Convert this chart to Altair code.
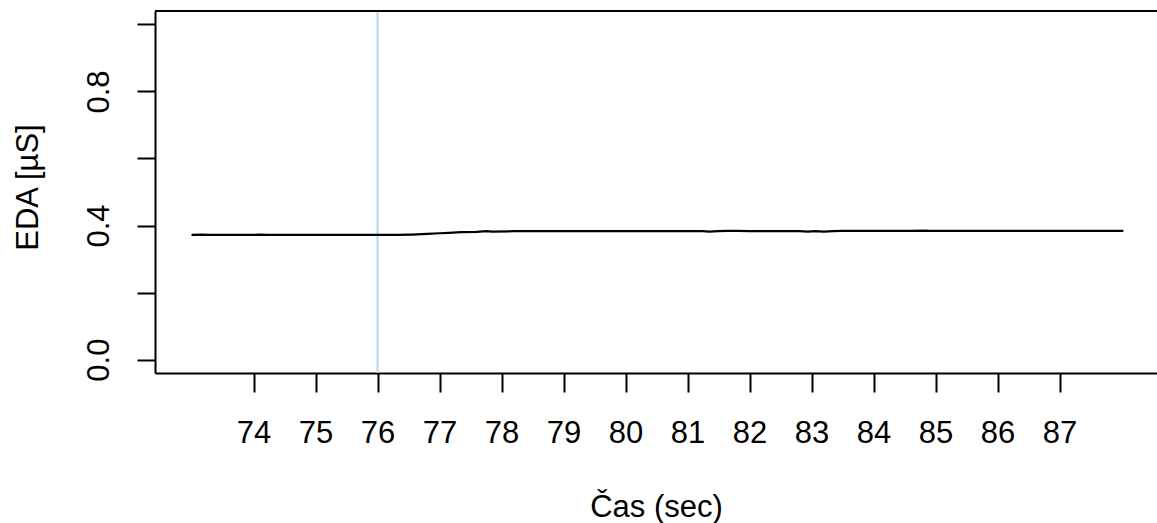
import altair as alt
import pandas as pd

# EDA signal samples
time_s = [73.0, 73.15, 73.3, 73.5, 73.75, 74.0, 74.1, 74.25, 74.5, 75.0, 75.5, 76.0,
          76.3, 76.55, 76.8, 77.0, 77.15, 77.35, 77.6, 77.75, 77.85, 78.2, 78.6, 79.0,
          79.5, 80.0, 80.5, 81.0, 81.25, 81.35, 81.5, 81.65, 81.8, 82.0, 82.4, 82.8,
          82.95, 83.05, 83.2, 83.35, 83.5, 83.8, 84.2, 84.6, 84.85, 84.9, 85.5, 86.0,
          86.5, 87.0, 87.5, 88.03]
eda_us = [0.372, 0.373, 0.372, 0.372, 0.372, 0.372, 0.373, 0.372, 0.372, 0.372, 0.372, 0.372,
          0.372, 0.373, 0.375, 0.377, 0.378, 0.380, 0.381, 0.383, 0.382, 0.383, 0.383, 0.383,
          0.383, 0.383, 0.383, 0.383, 0.383, 0.382, 0.383, 0.384, 0.384, 0.383, 0.383, 0.383,
          0.382, 0.383, 0.382, 0.383, 0.384, 0.384, 0.384, 0.384, 0.385, 0.384, 0.384, 0.384,
          0.384, 0.384, 0.384, 0.384]

x_ticks = [74, 75, 76, 77, 78, 79, 80, 81, 82, 83, 84, 85, 86, 87]
y_ticks = [0.0, 0.2, 0.4, 0.6, 0.8, 1.0]
marker_time = [76]

x_domain = [72.411, 88.572]
y_domain = [-0.04, 1.04]

W, H = 1002, 362
FONT = "Liberation Sans"
FS = 31

df = pd.DataFrame({"t": time_s, "eda": eda_us})
df_marker = pd.DataFrame({"t": marker_time})

x_scale = alt.Scale(domain=x_domain, nice=False, zero=False)
y_scale = alt.Scale(domain=y_domain, nice=False, zero=False)

x_axis = alt.Axis(
    values=x_ticks, format="d", title="Čas (sec)", grid=False,
    domainColor="black", domainWidth=2, tickColor="black", tickWidth=2, tickSize=19,
    labelFont=FONT, labelFontSize=FS, labelColor="black", labelPadding=50,
    labelBaseline="alphabetic", labelAlign="center", labelFlush=False, labelOverlap=False,
    titleFont=FONT, titleFontSize=FS, titleFontWeight="normal", titleColor="black",
    titleX=501, titleY=143, titleBaseline="alphabetic", titleAlign="center",
)
y_axis = alt.Axis(
    values=y_ticks, title="EDA [µS]", grid=False,
    labelExpr="(round(datum.value*10) % 4 == 0) ? format(datum.value, '.1f') : ''",
    domainColor="black", domainWidth=2, tickColor="black", tickWidth=2, tickSize=18,
    labelFont=FONT, labelFontSize=FS, labelColor="black", labelPadding=29, labelAngle=270,
    labelBaseline="alphabetic", labelAlign="center", labelFlush=False, labelOverlap=False,
    titleFont=FONT, titleFontSize=FS, titleFontWeight="normal", titleColor="black",
    titleX=-118, titleY=176, titleAngle=270, titleBaseline="alphabetic", titleAlign="center",
)

line = alt.Chart(df).mark_line(color="black", strokeWidth=2.2, clip=True).encode(
    x=alt.X("t:Q", scale=x_scale, axis=x_axis),
    y=alt.Y("eda:Q", scale=y_scale, axis=y_axis),
)

vline = alt.Chart(df_marker).mark_rule(color="#ADD8E6", strokeWidth=2).encode(
    x=alt.X("t:Q", scale=x_scale),
)

top_border = alt.Chart(df_marker).mark_rule(color="black", strokeWidth=2).encode(
    x=alt.value(0), x2=alt.value(W), y=alt.value(0)
)

chart = alt.layer(vline, line, top_border).properties(
    width=W, height=H,
    autosize=alt.AutoSizeParams(type="none"),
    padding={"left": 155, "top": 11, "right": 0, "bottom": 150},
    background="white",
).configure_view(stroke=None)

chart.save("out.html", embed_options={"renderer": "svg", "actions": False})
